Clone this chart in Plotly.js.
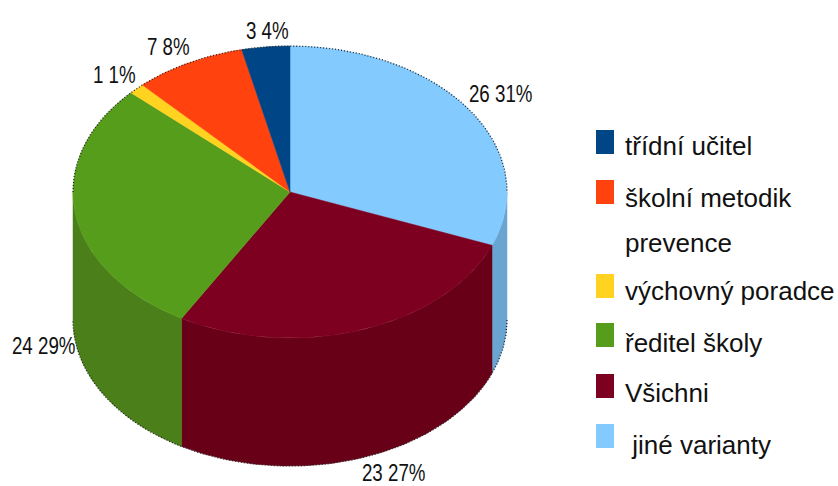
<!DOCTYPE html>
<html><head><meta charset="utf-8">
<script src="https://cdn.plot.ly/plotly-3.0.1.min.js"></script>
<style>html,body{margin:0;padding:0;background:#fff}#c{width:838px;height:486px}</style>
</head><body><div id="c"></div>
<script>
// Data, in legend order
const categories = ["třídní učitel","školní metodik<br>prevence","výchovný poradce","ředitel školy","Všichni"," jiné varianty"];
const counts = [3,7,1,24,23,26];
const percents = [4,8,1,29,27,31];
const topColors = ["#004586","#ff420e","#ffd320","#579d1c","#7e0021","#83caff"];
const sideColors = ["#00386b","#cc350b","#ccaa1a","#4a7f1a","#680018","#6aa5d2"];
// Drawing order: clockwise from 12 o'clock
const sliceOrder = [5,4,3,2,1,0];

// Geometry of the tilted disc, in the pixel-mapped axis space
const cx=290, cy=192, rx=217, ry=146, depth=128;
const total = counts.reduce((a,b)=>a+b,0);
const pt=(deg,dy)=>{const r=deg*Math.PI/180;return [cx+rx*Math.sin(r),cy-ry*Math.cos(r)+dy];};
const arc=(a,b,dy)=>{const n=Math.max(2,Math.ceil(Math.abs(b-a)));const o=[];for(let i=0;i<=n;i++)o.push(pt(a+(b-a)*i/n,dy));return o;};

const sideTraces=[], topTraces=[];
let acc=0;
sliceOrder.forEach(i=>{
  const a=acc/total*360, b=(acc+counts[i])/total*360; acc+=counts[i];
  const sa=Math.max(a,90), sb=Math.min(b,270);
  if(sb>sa){
    const p=arc(sa,sb,0).concat(arc(sb,sa,depth));
    p.push(p[0]);
    sideTraces.push({x:p.map(q=>q[0]),y:p.map(q=>q[1]),mode:"lines",fill:"toself",fillcolor:sideColors[i],line:{color:sideColors[i],width:0.5},hoverinfo:"skip"});
  }
  const p=[[cx,cy]].concat(arc(a,b,0));p.push([cx,cy]);
  topTraces.push({x:p.map(q=>q[0]),y:p.map(q=>q[1]),mode:"lines",fill:"toself",fillcolor:topColors[i],line:{color:topColors[i],width:0.5},hoverinfo:"skip"});
});
// Dark dotted outline of the disc: upper rim and lower rim, no vertical joins
const rim=arc(-90,90,0).concat([[null,null]],arc(90,270,depth));
const rimTrace={x:rim.map(q=>q[0]),y:rim.map(q=>q[1]),mode:"lines",line:{color:"#222",width:1.3,dash:"1px 2px"},hoverinfo:"skip"};

// Value labels
const labelPos=[[267,30],[168,46],[114,74],[43,345],[393,472.5],[500,93]];
const annotations=categories.map((c,i)=>({xref:"x",yref:"y",x:labelPos[i][0],y:labelPos[i][1],showarrow:false,xanchor:"center",yanchor:"middle",
  text:counts[i]+" "+percents[i]+"%",font:{family:"Liberation Sans",size:24,color:"#111"}}));

// Legend
const legendRows=[146,[198,243],291,343,393,445];
const swatchY=[142,192,286,335,386,436];
const shapes=[];
categories.forEach((c,i)=>{
  shapes.push({type:"rect",xref:"x",yref:"y",x0:596,x1:614,y0:swatchY[i]-12,y1:swatchY[i]+12,fillcolor:topColors[i],line:{width:0}});
  const rows=[].concat(legendRows[i]);
  c.split("<br>").forEach((t,j)=>annotations.push({xref:"x",yref:"y",x:623,y:rows[j],showarrow:false,xanchor:"left",yanchor:"middle",
    text:t.replace(/^ /,"\u00a0"),font:{family:"Liberation Sans",size:26,color:"#111"}}));
});

Plotly.newPlot("c",sideTraces.concat(topTraces,[rimTrace]),{
  width:838,height:486,margin:{l:0,r:0,t:0,b:0},showlegend:false,
  paper_bgcolor:"#fff",plot_bgcolor:"#fff",
  xaxis:{range:[0,838],visible:false,fixedrange:true},
  yaxis:{range:[486,0],visible:false,fixedrange:true},
  annotations,shapes
},{staticPlot:true,displayModeBar:false}).then(gd=>{
  // The reference's value labels are horizontally condensed
  gd.querySelectorAll("text.annotation-text").forEach(t=>{
    if(/%$/.test(t.textContent)){
      t.setAttribute("textLength",(t.getComputedTextLength()*0.78).toFixed(1));
      t.setAttribute("lengthAdjust","spacingAndGlyphs");
    }
  });
});
</script></body></html>
